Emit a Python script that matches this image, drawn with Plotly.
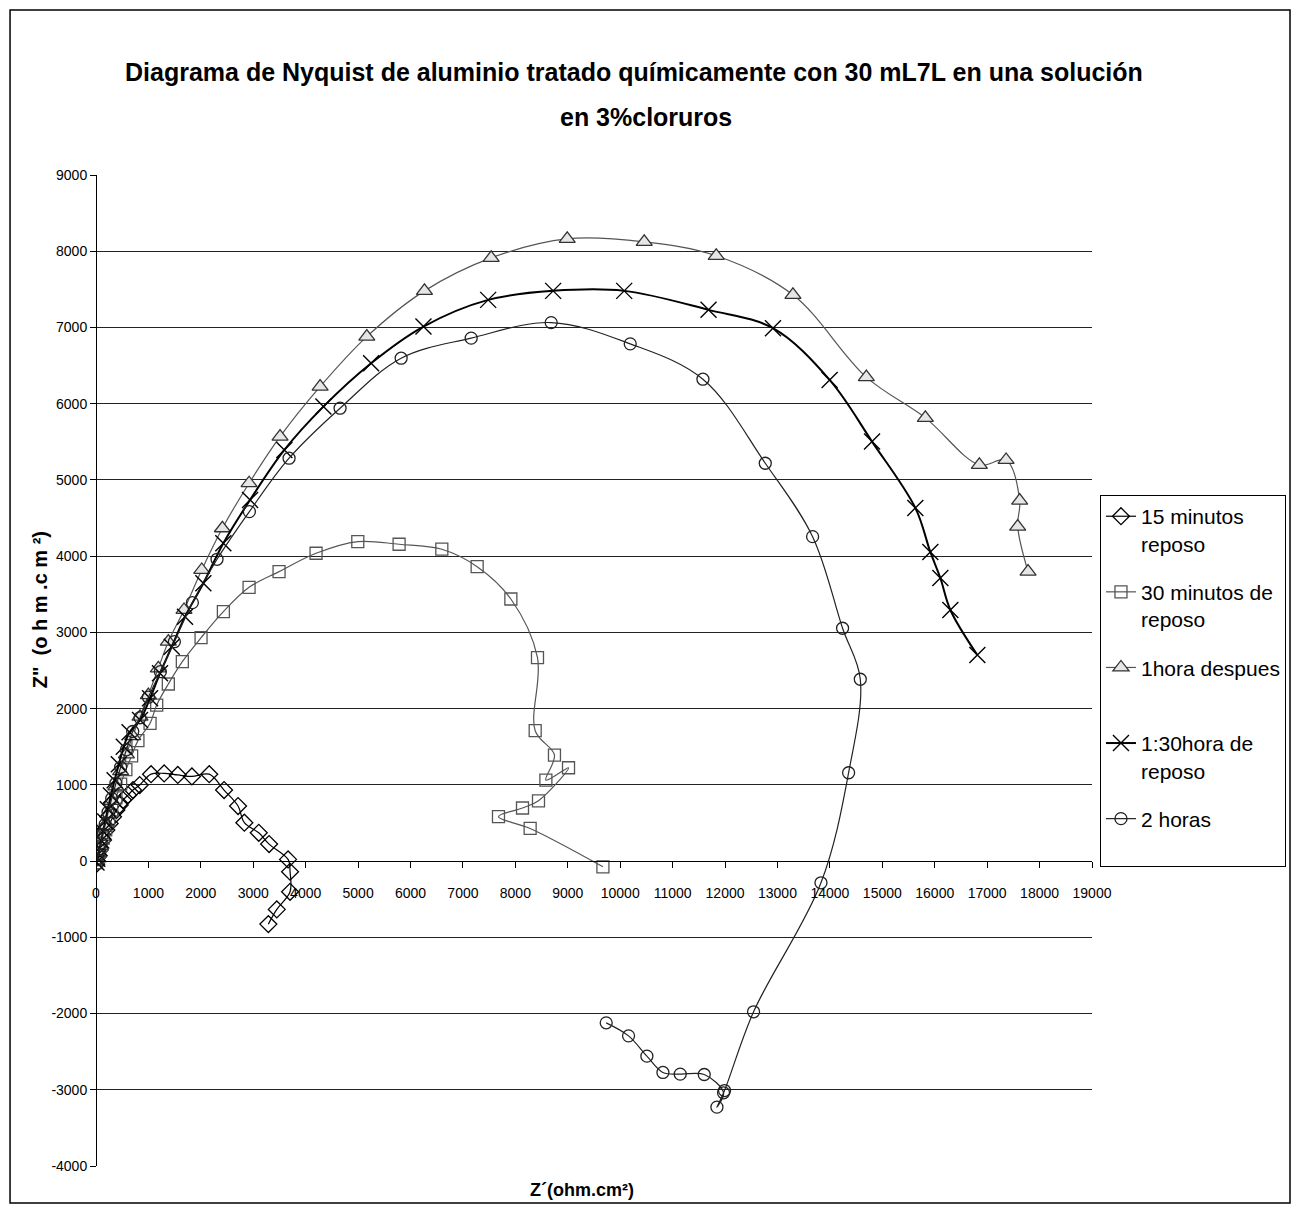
import plotly.graph_objects as go

# Z' (x) and Z'' (y) values, ohm.cm2
x_15min = [5, 38, 70, 134, 197, 261, 324, 388, 452, 515, 611, 706, 833, 1050, 1300, 1560, 1830, 2160,
           2443, 2710, 2830, 3105, 3302, 3664, 3702, 3702, 3449, 3288]
y_15min = [-40, 56, 144, 276, 407, 494, 581, 669, 735, 800, 866, 932, 997, 1140, 1150, 1130, 1110, 1140,
           932, 722, 503, 371, 223, 22, -140, -403, -634, -827]

x_30min = [10, 25, 45, 70, 100, 140, 185, 240, 300, 380, 470, 570, 680, 800, 1031, 1158, 1380, 1647,
           2004, 2430, 2920, 3492, 4198, 4994, 5782, 6597, 7271, 7914, 8422, 8378, 8746, 8582, 9014,
           8441, 8136, 7678, 8282, 9670]
y_30min = [-20, 20, 70, 130, 210, 300, 410, 530, 670, 830, 1010, 1200, 1380, 1580, 1807, 2047, 2323, 2616,
           2930, 3272, 3591, 3797, 4038, 4191, 4156, 4091, 3862, 3438, 2668, 1710, 1391, 1063, 1224,
           791, 696, 582, 428, -75]

x_1h = [10, 25, 50, 80, 120, 170, 230, 300, 380, 470, 580, 700, 840, 998, 1189, 1380, 1679, 2017, 2411,
        2920, 3511, 4275, 5166, 6266, 7538, 8989, 10458, 11832, 13295, 14695, 15821, 16851, 17361,
        17620, 17582, 17780]
y_1h = [10, 45, 110, 200, 320, 460, 620, 790, 980, 1180, 1400, 1640, 1894, 2178, 2529, 2878, 3294, 3819,
        4366, 4957, 5568, 6224, 6880, 7480, 7913, 8163, 8123, 7940, 7428, 6348, 5814, 5197, 5262,
        4728, 4387, 3797]

x_130h = [10, 25, 45, 70, 100, 135, 175, 225, 285, 355, 435, 530, 640, 840, 1031, 1221, 1445, 1698,
          2048, 2429, 2939, 3593, 4338, 5248, 6247, 7481, 8721, 10076, 11685, 12914, 13995, 14804,
          15630, 15916, 16107, 16298, 16813]
y_130h = [-20, 30, 90, 170, 270, 390, 520, 680, 860, 1060, 1270, 1500, 1690, 1850, 2135, 2463, 2812,
          3206, 3644, 4169, 4738, 5394, 5962, 6531, 7012, 7362, 7480, 7480, 7231, 6990, 6312, 5503,
          4633, 4055, 3714, 3294, 2703]

x_2h = [8, 20, 40, 65, 95, 130, 175, 230, 300, 380, 470, 580, 700, 840, 1000, 1228, 1495, 1838, 2309,
        2926, 3683, 4656, 5821, 7157, 8683, 10191, 11578, 12767, 13670, 14242, 14580, 14357, 13830,
        12544, 11990, 11845, 11971, 11603, 11145, 10815, 10509, 10159, 9733]
y_2h = [-40, 20, 80, 150, 240, 350, 480, 640, 820, 1020, 1230, 1460, 1700, 1880, 2150, 2484, 2878,
        3390, 3959, 4584, 5285, 5941, 6597, 6860, 7064, 6785, 6321, 5219, 4256, 3054, 2385, 1159,
        -285, -1977, -3010, -3228, -3040, -2800, -2795, -2773, -2559, -2293, -2122]

x_ticks = list(range(0, 19001, 1000))
y_ticks = list(range(-4000, 9001, 1000))

FONT = "Liberation Sans, Arial, sans-serif"

series = [
    ("15 minutos<br>reposo", x_15min, y_15min,
     dict(symbol="diamond-open", size=13, color="black", line=dict(width=1.3)), dict(color="black", width=1.2)),
    ("30 minutos de<br>reposo", x_30min, y_30min,
     dict(symbol="square-open", size=12, color="#555555", line=dict(width=1.3)), dict(color="#555555", width=1.2)),
    ("1hora despues<br> ", x_1h, y_1h,
     dict(symbol="triangle-up", size=14, color="#e6e6e6", line=dict(width=1.3, color="#333333")),
     dict(color="#555555", width=1.2)),
    ("1:30hora de<br>reposo", x_130h, y_130h,
     dict(symbol="x-thin-open", size=16, color="black", line=dict(width=1.4)), dict(color="black", width=2)),
    ("2 horas<br> ", x_2h, y_2h,
     dict(symbol="circle-open", size=12, color="#222222", line=dict(width=1.3)), dict(color="#222222", width=1.2)),
]

fig = go.Figure()
for i, (name, xs, ys, marker, line) in enumerate(series):
    fig.add_trace(
        go.Scatter(
            x=xs,
            y=ys,
            name=name,
            mode="lines+markers",
            line=dict(shape="spline", smoothing=1, **line),
            marker=marker,
            legendgroup=str(i),
        )
    )

fig.update_layout(
    width=1284,
    height=1196,
    margin=dict(l=88, r=200, t=167, b=38, autoexpand=False),
    paper_bgcolor="white",
    plot_bgcolor="white",
    font=dict(family=FONT, size=14, color="black"),
    xaxis=dict(
        range=[0, 19000],
        tickvals=x_ticks,
        ticktext=[str(v) for v in x_ticks],
        showgrid=False,
        zeroline=False,
        showline=True,
        linecolor="black",
        linewidth=1,
        ticks="outside",
        ticklen=6,
        tickcolor="black",
        ticklabelstandoff=13,
        anchor="free",
        position=4 / 13,
        tickfont=dict(size=14),
    ),
    yaxis=dict(
        range=[-4000, 9000],
        tickvals=y_ticks,
        ticktext=[str(v) for v in y_ticks],
        showgrid=True,
        gridcolor="#222222",
        gridwidth=1,
        zeroline=False,
        showline=True,
        linecolor="black",
        linewidth=1,
        ticks="outside",
        ticklen=6,
        tickcolor="black",
        anchor="free",
        position=0,
        tickfont=dict(size=14),
    ),
    legend=dict(
        x=1.008,
        y=0.677,
        xanchor="left",
        yanchor="top",
        bordercolor="black",
        borderwidth=1,
        bgcolor="white",
        font=dict(family=FONT, size=21),
        valign="top",
        tracegroupgap=18,
    ),
    showlegend=True,
)

# two-line bold title
fig.add_annotation(
    text="<b>Diagrama de Nyquist de aluminio tratado químicamente con 30 mL7L en una solución</b>",
    xref="paper", yref="paper", x=0.540, y=1.1039,
    xanchor="center", yanchor="middle", showarrow=False,
    font=dict(family=FONT, size=25),
)
fig.add_annotation(
    text="<b>en 3%cloruros</b>",
    xref="paper", yref="paper", x=0.552, y=1.0585,
    xanchor="center", yanchor="middle", showarrow=False,
    font=dict(family=FONT, size=25),
)

fig.add_annotation(
    text='<b>Z"  (o h m .c m ²)</b>',
    xref="paper", yref="paper",
    x=-0.056, y=0.561,
    xanchor="center", yanchor="middle",
    textangle=-90,
    showarrow=False,
    font=dict(family=FONT, size=20),
)
fig.add_annotation(
    text="<b>Z´(ohm.cm²)</b>",
    xref="paper", yref="paper",
    x=0.488, y=-0.024,
    xanchor="center", yanchor="middle",
    showarrow=False,
    font=dict(family=FONT, size=18),
)

# outer chart frame
fig.add_shape(
    type="rect", xref="paper", yref="paper",
    x0=-0.0863, x1=1.1988, y0=-0.0373, y1=1.1665,
    line=dict(color="black", width=1.5),
)

fig.write_html("out.html")
